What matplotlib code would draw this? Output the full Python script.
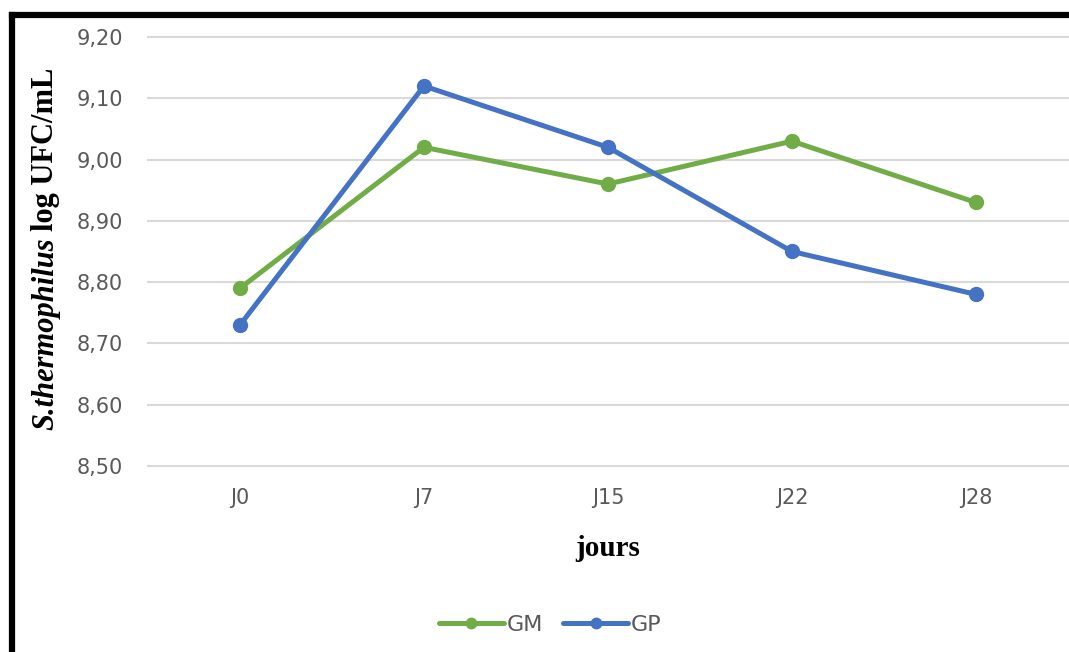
import numpy as np
import matplotlib.pyplot as plt
from matplotlib.lines import Line2D

jours = ["J0", "J7", "J15", "J22", "J28"]
gm = [8.79, 9.02, 8.96, 9.03, 8.93]
gp = [8.73, 9.12, 9.02, 8.85, 8.78]
yticks = [8.50, 8.60, 8.70, 8.80, 8.90, 9.00, 9.10, 9.20]

fig = plt.figure(figsize=(10.69, 6.52), dpi=100)
ax = fig.add_axes([0.1384, 0.2853, 0.8606, 0.658])

x = np.arange(len(jours))
ax.plot(x, gm, color="#70AD47", lw=3.6, marker="o", ms=10, label="GM",
        solid_capstyle="round", zorder=3)
ax.plot(x, gp, color="#4472C4", lw=3.6, marker="o", ms=10, label="GP",
        solid_capstyle="round", zorder=3)

ax.set_xlim(-0.5, len(jours) - 0.5)
ax.set_ylim(8.5, 9.2)
ax.set_yticks(yticks)
ax.set_yticklabels([f"{v:.2f}".replace(".", ",") for v in yticks])
ax.set_xticks(x)
ax.set_xticklabels(jours)
ax.grid(axis="y", color="#D9D9D9", lw=1.5, clip_on=False)
ax.set_axisbelow(True)
for s in ax.spines.values():
    s.set_visible(False)
ax.tick_params(length=0, labelsize=15, labelcolor="#595959")
ax.tick_params(axis="y", pad=18)
ax.tick_params(axis="x", pad=16)

ax.set_xlabel("jours", family="Liberation Serif", weight="bold", size=21, labelpad=19)

# y label: italic species name + upright unit, stacked along the rotated axis
lab_x = 0.043
y0 = 1 - 430 / 652
t1 = fig.text(lab_x, y0, "S.thermophilus", rotation=90, family="Liberation Serif",
              weight="bold", style="italic", size=22, ha="center", va="bottom")
r = fig.canvas.get_renderer()
bb = t1.get_window_extent(r).transformed(fig.transFigure.inverted())
fig.text(lab_x, bb.y1 + 0.01, "log UFC/mL", rotation=90, family="Liberation Serif",
         weight="bold", size=22, ha="center", va="bottom")

h_gm = Line2D([], [], color="#70AD47", lw=3.6, marker="o", ms=7.5, solid_capstyle="round")
h_gp = Line2D([], [], color="#4472C4", lw=3.6, marker="o", ms=7.5, solid_capstyle="round")
leg = fig.legend([h_gm, h_gp], ["GM", "GP"], loc="center", bbox_to_anchor=(0.515, 0.041),
                 ncol=2, frameon=False, fontsize=16, handlelength=2.9,
                 columnspacing=0.9, handletextpad=0.15)
for t in leg.get_texts():
    t.set_color("#595959")

# black frame (top and left edges visible)
fig.add_artist(Line2D([0.0108, 1.0], [0.977, 0.977], color="black", lw=4.5,
                      transform=fig.transFigure))
fig.add_artist(Line2D([0.0108, 0.0108], [0.0, 0.977], color="black", lw=4.5,
                      transform=fig.transFigure))

fig.savefig("out.png", dpi=100)
